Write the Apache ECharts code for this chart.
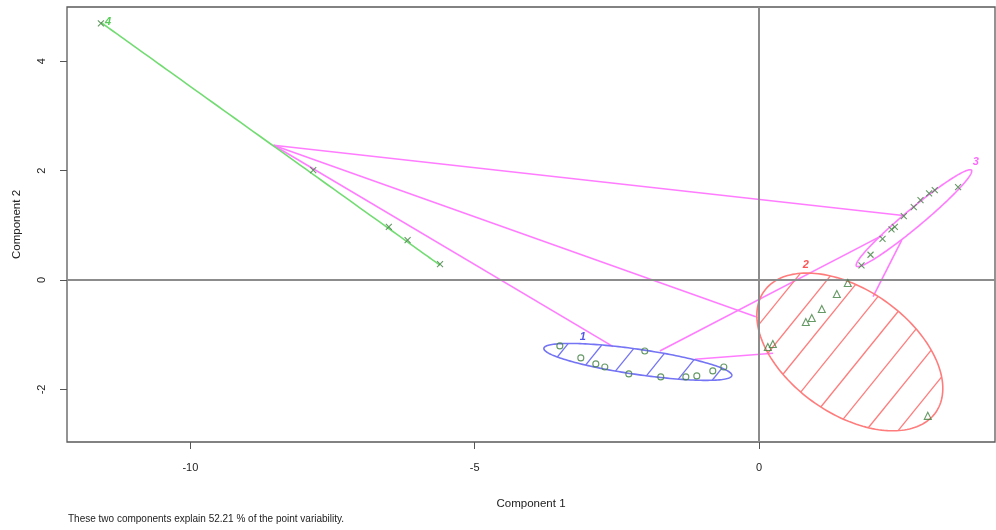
<!DOCTYPE html>
<html><head><meta charset="utf-8">
<script src="https://cdn.jsdelivr.net/npm/echarts@6/dist/echarts.min.js"></script>
<style>html,body{margin:0;padding:0;background:#fff}#c{width:996px;height:530px}</style>
</head><body><div id="c"></div>
<script>
// ---- data ----
const xTicks = [-10, -5, 0];
const yTicks = [-2, 0, 2, 4];
const cluster1 = [[-3.503,-1.204],[-3.134,-1.423],[-2.870,-1.533],[-2.712,-1.588],[-2.290,-1.715],[-2.009,-1.296],[-1.728,-1.770],[-1.287,-1.770],[-1.094,-1.752],[-0.813,-1.661],[-0.619,-1.588]];
const cluster2 = [[1.561,-0.055],[1.368,-0.255],[1.104,-0.529],[0.928,-0.693],[0.823,-0.766],[0.243,-1.168],[0.155,-1.223],[2.968,-2.482]];
const cluster3 = [[1.802,0.268],[1.961,0.462],[2.172,0.754],[2.330,0.925],[2.388,0.973],[2.546,1.168],[2.722,1.332],[2.840,1.460],[2.991,1.582],[3.091,1.642],[3.501,1.697]];
const cluster4 = [[-11.574,4.690],[-7.840,2.010],[-6.510,0.970],[-6.180,0.730],[-5.610,0.290]];
const clusterNames = ['1','2','3','4'];
const ellipseCenterX = [-2.131, 1.597, 2.725, -8.594];
const ellipseCenterY = [-1.496, -1.314, 1.131, 2.491];
const ellipseVarX = [2.732, 2.674, 1.0327, 8.88];
const ellipseVarY = [0.1139, 2.078, 0.7833, 4.915];
const ellipseCovXY = [-0.4037, -1.090, 0.8728, -6.607];
const labelX = [-3.097, 0.823, 3.811, -11.45];
const labelY = [-1.04, 0.274, 2.153, 4.72];
const linkFrom = [[-8.538,2.464],[-8.538,2.464],[-8.538,2.464],[-1.744,-1.296],[-1.129,-1.447],[2.006,-0.305]];
const linkTo = [[2.534,1.180],[-0.056,-0.670],[-2.565,-1.217],[2.177,0.821],[0.248,-1.338],[2.510,0.730]];
const subtitle = 'These two components explain 52.21 % of the point variability.';

// ---- style ----
const clusColors = ['#7474f4', '#ff7c7c', '#ff7cff', '#72dc72'];
const labelColors = ['#2a2ae0', '#ff2a2a', '#ff40ff', '#2cc02c'];
const hatchSpacing = [27, 25, 0, 0];
const hatchPhase = [9.8, 19, 0, 0];
const hatchAngle = 51 * Math.PI / 180;
const ptColor = '#3f7f3f';
const FONT = 'Liberation Sans, Arial, sans-serif';

const chart = echarts.init(document.getElementById('c'), null, {renderer: 'canvas'});

function renderEllipse(params, api) {
  const i = api.value(2);
  const cx = ellipseCenterX[i], cy = ellipseCenterY[i];
  const l11 = Math.sqrt(ellipseVarX[i]);
  const l21 = ellipseCovXY[i] / l11;
  const l22 = Math.sqrt(Math.max(0, ellipseVarY[i] - l21 * l21));
  const pts = [];
  const N = 180;
  for (let k = 0; k <= N; k++) {
    const t = 2 * Math.PI * k / N;
    const c = Math.cos(t), s = Math.sin(t);
    pts.push(api.coord([cx + l11 * c, cy + l21 * c + l22 * s]));
  }
  const children = [];
  const sp = hatchSpacing[i];
  if (sp > 0) {
    const nx = Math.sin(hatchAngle), ny = Math.cos(hatchAngle);
    const sv = pts.map(p => p[0] * nx + p[1] * ny);
    const smin = Math.min.apply(null, sv), smax = Math.max.apply(null, sv);
    const ph = hatchPhase[i];
    for (let s = Math.ceil((smin - ph) / sp) * sp + ph; s < smax; s += sp) {
      const hits = [];
      for (let k = 0; k < pts.length - 1; k++) {
        const a = sv[k] - s, b = sv[k + 1] - s;
        if ((a <= 0 && b > 0) || (a > 0 && b <= 0)) {
          const f = a / (a - b);
          hits.push([pts[k][0] + f * (pts[k + 1][0] - pts[k][0]), pts[k][1] + f * (pts[k + 1][1] - pts[k][1])]);
        }
      }
      if (hits.length >= 2) {
        children.push({type: 'line', shape: {x1: hits[0][0], y1: hits[0][1], x2: hits[1][0], y2: hits[1][1]},
          style: {stroke: clusColors[i], lineWidth: 1.3}});
      }
    }
  }
  children.push({type: 'polyline', shape: {points: pts}, style: {stroke: clusColors[i], lineWidth: 1.6, fill: null}});
  return {type: 'group', children: children};
}

const crossPath = 'path://M0,0L10,10M10,0L0,10';
function pointSeries(data, symbol, size) {
  return {type: 'scatter', data: data, symbol: symbol, symbolSize: size, z: 5,
    itemStyle: {color: 'rgba(0,0,0,0)', borderColor: ptColor, borderWidth: 1.1}, silent: true};
}

const option = {
  animation: false,
  backgroundColor: '#fff',
  grid: {left: 67, top: 7, right: 1, bottom: 88, show: true, borderColor: '#5a5a5a', borderWidth: 1.3, backgroundColor: 'transparent'},
  xAxis: {type: 'value', min: -12.17, max: 4.15, splitLine: {show: false}, axisLine: {show: false, onZero: false},
    axisTick: {show: true, customValues: xTicks, length: 7, lineStyle: {color: '#555'}},
    axisLabel: {customValues: xTicks, margin: 20, fontSize: 11, color: '#222', fontFamily: FONT},
    name: 'Component 1', nameLocation: 'middle', nameGap: 56,
    nameTextStyle: {fontSize: 11.5, color: '#222', fontFamily: FONT}},
  yAxis: {type: 'value', min: -2.96, max: 4.99, splitLine: {show: false}, axisLine: {show: false, onZero: false},
    axisTick: {show: true, customValues: yTicks, length: 7, lineStyle: {color: '#555'}},
    axisLabel: {customValues: yTicks, margin: 20, rotate: 90, fontSize: 11, color: '#222', fontFamily: FONT},
    name: 'Component 2', nameLocation: 'middle', nameGap: 44,
    nameTextStyle: {fontSize: 11.5, color: '#222', fontFamily: FONT}},
  graphic: [{type: 'text', left: 68, top: 514, style: {text: subtitle, fontSize: 10, fill: '#222', fontFamily: FONT}}],
  series: [
    {type: 'line', data: [], silent: true, z: 1,
      markLine: {silent: true, symbol: 'none', label: {show: false},
        lineStyle: {color: '#8c8c8c', width: 2, type: 'solid'},
        data: [{xAxis: 0}, {yAxis: 0}]}},
    {type: 'custom', renderItem: renderEllipse, clip: true, z: 3, silent: true,
      data: ellipseCenterX.map((x, i) => [x, ellipseCenterY[i], i]), encode: {x: 0, y: 1}},
    {type: 'lines', coordinateSystem: 'cartesian2d', z: 2, silent: true,
      lineStyle: {color: clusColors[2], width: 1.6, opacity: 1},
      data: linkFrom.map((f, i) => ({coords: [f, linkTo[i]]}))},
    pointSeries(cluster1, 'circle', 6),
    pointSeries(cluster2, 'triangle', 7),
    pointSeries(cluster3, crossPath, 6),
    pointSeries(cluster4, crossPath, 6),
    {type: 'scatter', symbolSize: 1, z: 6, silent: true,
      itemStyle: {color: 'rgba(0,0,0,0)'},
      data: clusterNames.map((n, i) => ({value: [labelX[i], labelY[i]], name: n,
        label: {show: true, position: 'inside', formatter: n, color: labelColors[i],
          fontSize: 11, fontStyle: 'italic', fontWeight: 'bold', fontFamily: FONT}}))}
  ]
};
chart.setOption(option);
</script>
</body></html>
